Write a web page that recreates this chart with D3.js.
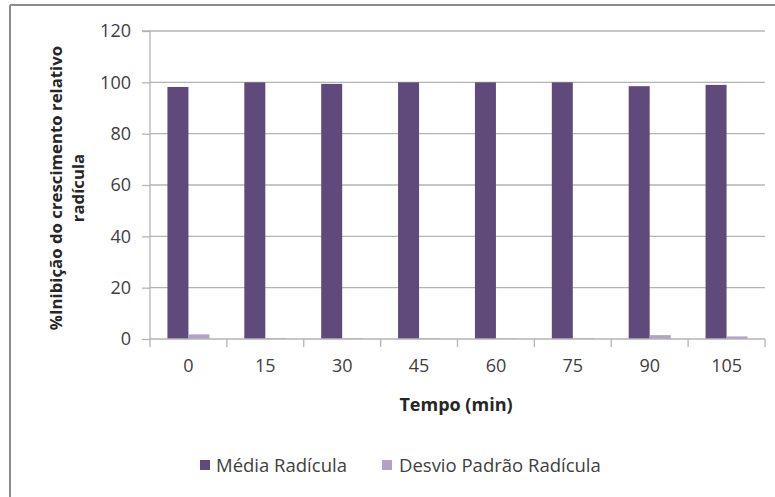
<!DOCTYPE html>
<html><head><meta charset="utf-8">
<script src="https://cdn.jsdelivr.net/npm/d3@7"></script>
<style>body{margin:0;background:#fff}svg{display:block}</style>
</head><body>
<script>
const categories = ["0","15","30","45","60","75","90","105"];
const mediaRadicula = [98.2, 100, 99.4, 100, 100, 100, 98.5, 99.0];
const desvioRadicula = [1.8, 0.3, 0.3, 0.3, 0.2, 0.3, 1.5, 1.0];
const seriesNames = ["Média Radícula", "Desvio Padrão Radícula"];
const yTicks = [0,20,40,60,80,100,120];
const colors = ["#604A7B", "#B3A2C7"];

const W = 775, H = 497;
const svg = d3.select("body").append("svg").attr("width", W).attr("height", H);
const font = "'Open Sans', sans-serif";
const txt = "#404040";

// outer frame (left & top visible)
svg.append("line").attr("x1",10).attr("x2",10).attr("y1",5).attr("y2",H).attr("stroke","#8c8c8c").attr("stroke-width",2);
svg.append("line").attr("x1",10).attr("x2",W).attr("y1",5).attr("y2",5).attr("stroke","#8c8c8c").attr("stroke-width",2);

const m = {l:150, r:765, t:31, b:339};
const x = d3.scaleBand().domain(categories).range([m.l, m.r]).paddingInner(0).paddingOuter(0);
const y = d3.scaleLinear().domain([0,120]).range([m.b, m.t]);
const xs = d3.scaleBand().domain([0,1]).range([0, 42]);

// gridlines
svg.append("g").selectAll("line").data(yTicks.filter(d=>d>0)).join("line")
  .attr("x1", m.l).attr("x2", m.r).attr("y1", d=>y(d)).attr("y2", d=>y(d))
  .attr("stroke","#b4b4b4").attr("stroke-width",1.3);

// bars
const series = [mediaRadicula, desvioRadicula];
series.forEach((vals, si) => {
  svg.append("g").selectAll("rect").data(categories).join("rect")
    .attr("x", c => x(c) + (x.bandwidth()-42)/2 + xs(si))
    .attr("width", xs.bandwidth())
    .attr("y", (c,i) => y(vals[i]))
    .attr("height", (c,i) => y(0) - y(vals[i]))
    .attr("fill", colors[si]);
});

// y axis
const ya = svg.append("g").attr("transform", `translate(${m.l},0)`)
  .call(d3.axisLeft(y).tickValues(yTicks).tickSize(8).tickPadding(11));
ya.select(".domain").attr("stroke","#b4b4b4").attr("stroke-width",1.3).attr("d", `M-8,${m.t}H0V${m.b}`);
ya.selectAll(".tick line").attr("stroke","#b4b4b4").attr("stroke-width",1.3);
ya.selectAll(".tick text").attr("font-family",font).attr("font-size",18).attr("fill",txt);

// x axis
const xa = svg.append("g").attr("transform", `translate(0,${m.b})`)
  .call(d3.axisBottom(x).tickSize(0).tickPadding(20));
xa.select(".domain").attr("stroke","#b4b4b4").attr("stroke-width",1.3).attr("d", `M${m.l},0H${m.r}`);
xa.selectAll(".tick text").attr("font-family",font).attr("font-size",18).attr("fill",txt);
// category boundary ticks
svg.append("g").selectAll("line").data(categories.concat(["end"])).join("line")
  .attr("x1", (c,i)=> m.l + i*x.bandwidth()).attr("x2",(c,i)=> m.l + i*x.bandwidth())
  .attr("y1", m.b).attr("y2", m.b+8).attr("stroke","#b4b4b4").attr("stroke-width",1.3);

// x title
svg.append("text").attr("x", 456).attr("y", 411).attr("text-anchor","middle")
  .attr("font-family",font).attr("font-weight","bold").attr("font-size",18).attr("fill","#262626")
  .text("Tempo (min)");

// y title
const yt = svg.append("text").attr("transform","translate(0,188) rotate(-90)")
  .attr("text-anchor","middle").attr("font-family",font).attr("font-weight","bold")
  .attr("font-size",16.8).attr("fill","#262626");
yt.append("tspan").attr("x",0).attr("y",62).text("%Inibição do crescimento relativo");
yt.append("tspan").attr("x",0).attr("y",84).text("radícula");

// legend
const leg = [{x:200, tx:216}, {x:382, tx:399}];
seriesNames.forEach((n,i)=>{
  svg.append("rect").attr("x",leg[i].x).attr("y",460).attr("width",10).attr("height",10).attr("fill",colors[i]);
  svg.append("text").attr("x",leg[i].tx).attr("y",471.5).attr("font-family",font).attr("font-size",18.5)
    .attr("fill",txt).text(n);
});
</script>
</body></html>
